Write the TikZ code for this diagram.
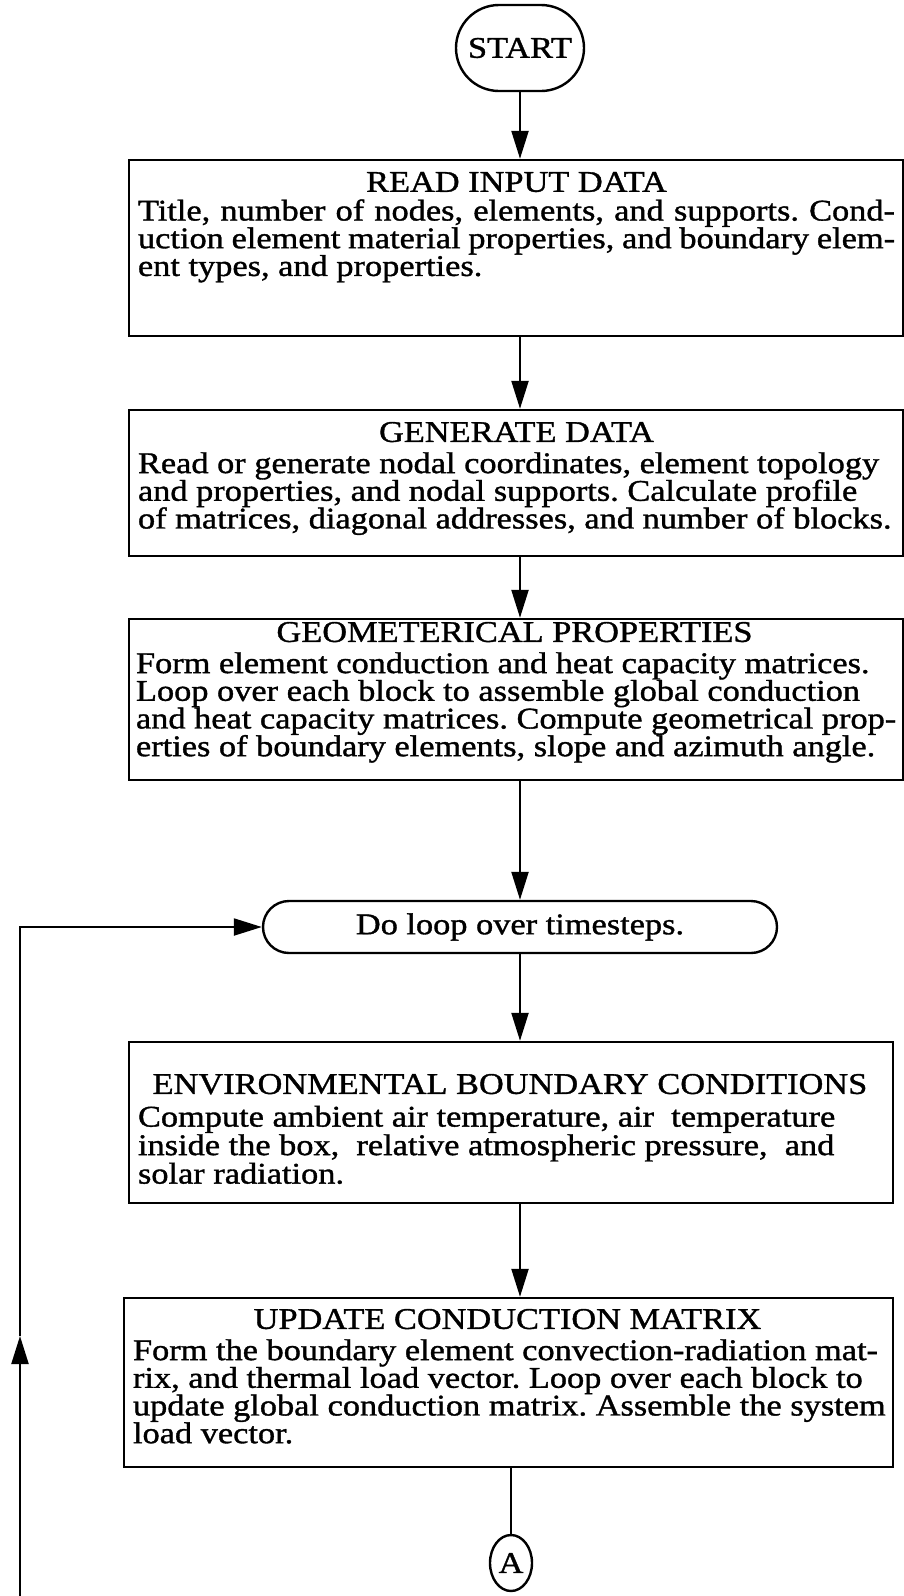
\documentclass[tikz,border=0pt]{standalone}
\usepackage{fontspec}
\setmainfont{Liberation Serif}[FakeStretch=1.145,FakeBold=1.2]
\usetikzlibrary{arrows.meta,shapes.geometric,shapes.misc}

\begin{document}
\begin{tikzpicture}[x=1pt,y=1pt,
  every node/.style={font=\fontsize{30}{27.7}\selectfont\frenchspacing},
  flow/.style={-{Triangle[length=28pt,width=17pt]}, line width=2.2pt},
  link/.style={line width=2.2pt},
  stepbox/.style={draw, rectangle, inner sep=0pt, line width=2.4pt},
  boxtext/.style={inner sep=0pt, align=left, anchor=north west},
  term/.style={draw, rounded rectangle, inner sep=0pt, line width=2.4pt},
  connector/.style={draw, ellipse, inner sep=0pt, line width=2.4pt,
    minimum width=42pt, minimum height=56pt}]
\useasboundingbox (0,0) rectangle (904,-1596);

% terminals
\node[term, minimum width=128pt, minimum height=86pt] (start) at (520,-48) {START};

% process boxes
\node[stepbox, minimum width=774pt, minimum height=176pt] (b1) at (516,-248) {};
\node[boxtext] (t1) at ([xshift=10pt,yshift=-13pt]b1.north west)
  {\makebox[757pt]{READ INPUT DATA}\\[1pt]
   \makebox[757pt][s]{Title, number of nodes, elements, and supports. Cond-}\\
   \makebox[757pt][s]{uction element material properties, and boundary elem-}\\
   ent types, and properties.};

\node[stepbox, minimum width=774pt, minimum height=146pt] (b2) at (516,-483) {};
\node[boxtext] (t2) at ([xshift=10pt,yshift=-13pt]b2.north west)
  {\makebox[757pt]{GENERATE DATA}\\[3.5pt]
   Read or generate nodal coordinates, element topology\\
   and properties, and nodal supports. Calculate profile\\
   of matrices, diagonal addresses, and number of blocks.};

\node[stepbox, minimum width=774pt, minimum height=161pt] (b3) at (516,-699.5) {};
\node[boxtext] (t3) at ([xshift=8pt,yshift=-4pt]b3.north west)
  {\makebox[757pt]{GEOMETERICAL PROPERTIES}\\[3.5pt]
   Form element conduction and heat capacity matrices.\\
   Loop over each block to assemble global conduction\\
   and heat capacity matrices. Compute geometrical prop-\\
   erties of boundary elements, slope and azimuth angle.};

\node[term, minimum width=514pt, minimum height=52pt] (loop) at (520,-927) {Do loop over timesteps.};

\node[stepbox, minimum width=764pt, minimum height=161pt] (b4) at (511,-1122.5) {};
\node[boxtext] (t4) at ([xshift=10pt,yshift=-33pt]b4.north west)
  {\makebox[744pt]{ENVIRONMENTAL BOUNDARY CONDITIONS}\\[5pt]
   Compute ambient air temperature, air~ temperature\\[0.8pt]
   inside the box,~ relative atmospheric pressure,~ and\\[0.8pt]
   solar radiation.};

\node[stepbox, minimum width=769pt, minimum height=169pt] (b5) at (508.5,-1382.5) {};
\node[boxtext] (t5) at ([xshift=10pt,yshift=-12pt]b5.north west)
  {\makebox[749pt]{UPDATE CONDUCTION MATRIX}\\[3.5pt]
   Form the boundary element convection-radiation mat-\\
   rix, and thermal load vector. Loop over each block to\\
   update global conduction matrix. Assemble the system\\
   load vector.};

\node[connector] (A) at (511,-1563) {A};

% main flow
\draw[flow] (start.south) -- (start.south |- b1.north);
\draw[flow] (b1.south -| start) -- (start |- b2.north);
\draw[flow] (b2.south -| start) -- (start |- b3.north);
\draw[flow] (b3.south -| start) -- (loop.north);
\draw[flow] (loop.south) -- (loop.south |- b4.north);
\draw[flow] (b4.south -| loop) -- (loop |- b5.north);
\draw[link] (b5.south -| A) -- (A.north);

% return path of the time loop
\coordinate (lb) at (20,-1596);
\coordinate (lm) at (20,-1336);
\draw[flow] (lb) -- (lm);
\draw[flow] (lm) -- (lm |- loop.west) -- (loop.west);
\end{tikzpicture}
\end{document}
